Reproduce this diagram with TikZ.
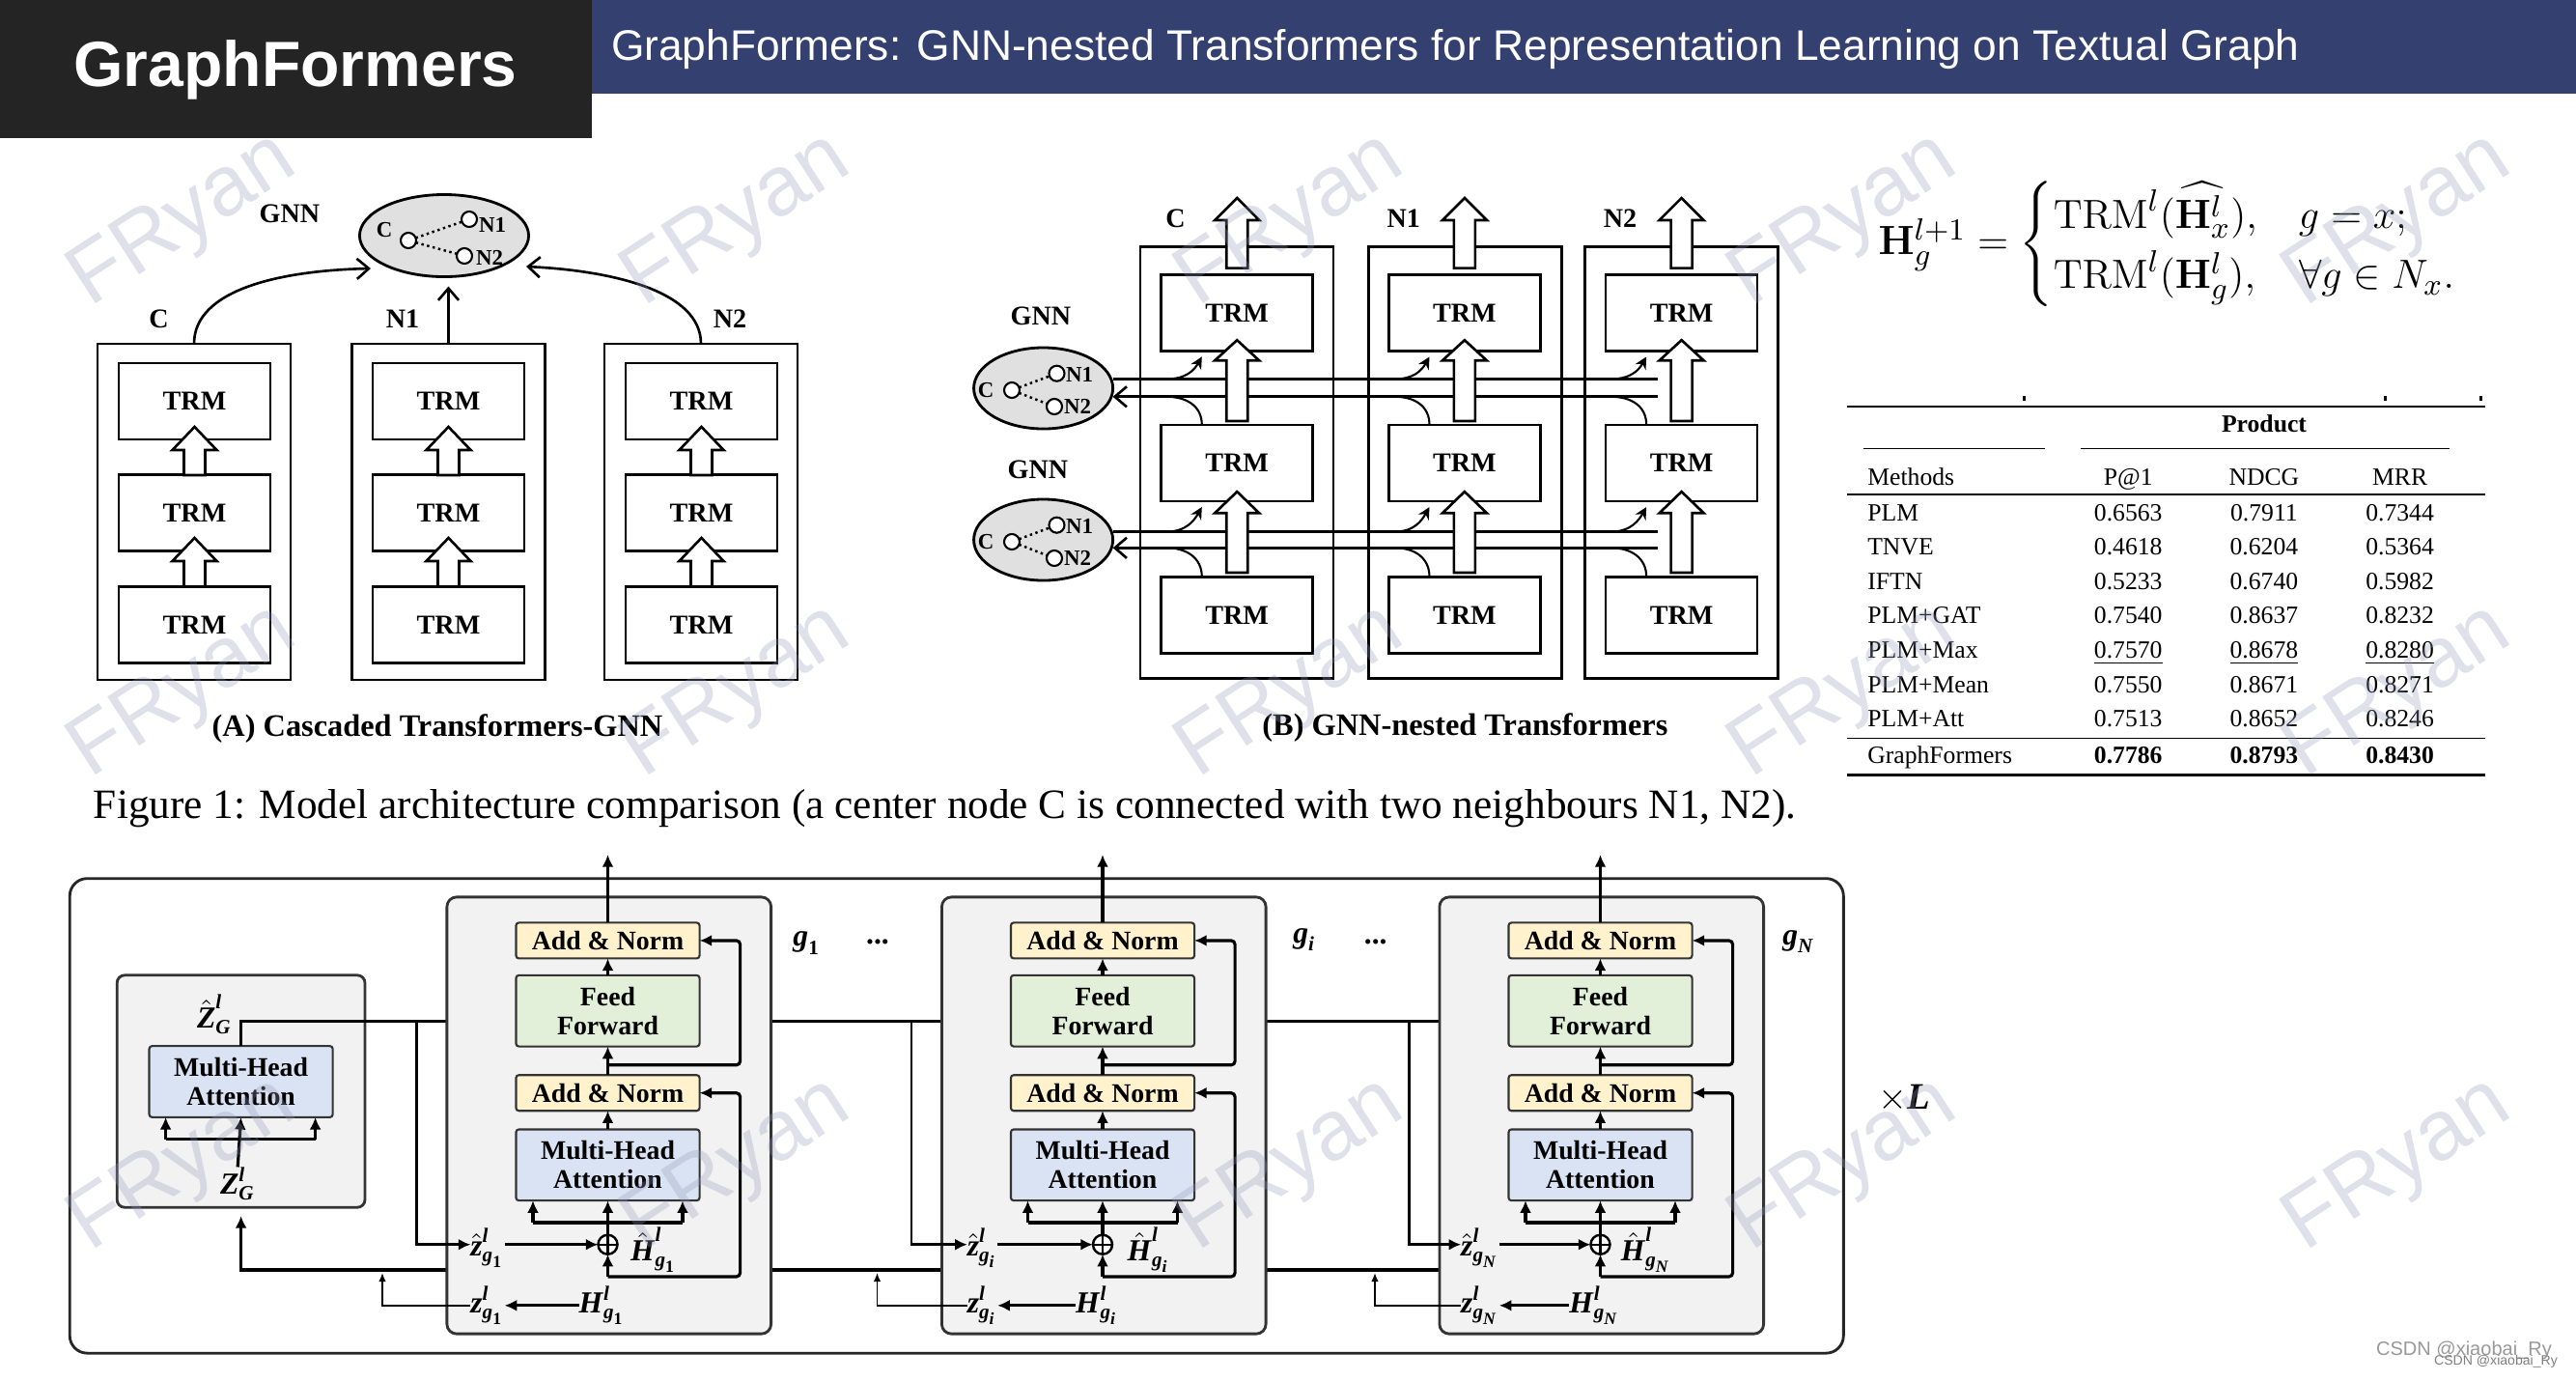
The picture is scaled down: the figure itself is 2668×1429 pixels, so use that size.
\documentclass[tikz,border=0pt]{standalone}
\usepackage{amsmath,amssymb}
\usepackage[no-math]{fontspec}
\setmainfont{Liberation Serif}
\newfontfamily\arial{Liberation Sans}
\usetikzlibrary{arrows.meta,calc,shapes.geometric}
\definecolor{titlebg}{RGB}{36,36,36}
\definecolor{barbg}{RGB}{52,64,112}
\definecolor{ellgray}{RGB}{224,224,224}
\definecolor{blkgray}{RGB}{242,242,242}
\definecolor{anfill}{RGB}{255,242,204}
\definecolor{fffill}{RGB}{226,240,217}
\definecolor{mhafill}{RGB}{218,227,243}
\definecolor{wmark}{RGB}{150,155,185}
\newcommand\bi[1]{\textbf{\textit{#1}}}
\newcommand\fs[1]{\fontsize{#1}{#1}\selectfont}
\newcommand\harrow[4]{\draw[line width=0.75pt,fill=white] ({#1-11},#4) -- ({#1-11},#3) -- ({#1-23},#3) -- (#1,#2) -- ({#1+23},#3) -- ({#1+11},#3) -- ({#1+11},#4) -- cycle;}
\begin{document}
\begin{tikzpicture}[x=0.01cm,y=-0.01cm,
  every node/.style={inner sep=0pt,outer sep=0pt},
  trm/.style={draw,line width=0.75pt,minimum width=1.57cm,minimum height=0.79cm,font=\fs{8}\bfseries},
  colbox/.style={draw,line width=0.75pt,minimum width=2cm},
  lbl/.style={font=\fs{8}\bfseries},
  gnn/.style={ellipse,draw,line width=0.8pt,fill=ellgray},
  gdot/.style={circle,draw,line width=0.6pt,fill=white,minimum size=0.16cm},
  glab/.style={font=\fs{6.5}\bfseries},
  oarrow/.style={line width=0.75pt,-{Straight Barb[length=3.5pt,width=6pt]}},
  carrow/.style={line width=0.6pt,-{Stealth[length=3.5pt,width=3.5pt]}},
  tabtxt/.style={font=\fs{7.3},anchor=base},
  blk/.style={draw=black!80,line width=0.8pt,fill=blkgray,rounded corners=0.1cm},
  cbox/.style={draw=black!80,line width=0.6pt,rounded corners=0.03cm,minimum width=1.9cm,font=\fontsize{7.9}{8.6}\selectfont\bfseries,align=center},
  anbox/.style={cbox,fill=anfill,minimum height=0.37cm},
  ffbox/.style={cbox,fill=fffill,minimum height=0.737cm},
  mhabox/.style={cbox,fill=mhafill,minimum height=0.737cm},
  mlab/.style={font=\fs{9}},
  tarrow/.style={line width=0.9pt,-{Latex[length=3.6pt,width=3.4pt]}},
  fline/.style={line width=0.9pt},
  sarrow/.style={line width=0.5pt,-{Latex[length=2.6pt,width=2.2pt]}}
]
\useasboundingbox (0,0) rectangle (2668,1429);
\fill[white] (0,0) rectangle (2668,1429);

% ---------- title ----------
\node[fill=titlebg,minimum width=6.13cm,minimum height=1.43cm,anchor=north west] (ttl) at (0,0) {};
\node[font=\arial\bfseries\fs{18.8},text=white] (ttltxt) at (306,72) {GraphFormers};
\node[fill=barbg,minimum width=20.55cm,minimum height=0.97cm,anchor=north west] (bar) at (613,0) {};
\node[font=\arial\fs{12.6},text=white,anchor=west] (bartxt) at (633,51) {GraphFormers: GNN-nested Transformers for Representation Learning on Textual Graph};

% ---------- Fig A ----------
\node[colbox,minimum height=3.48cm] (A-C) at (201,530) {};
\node[colbox,minimum height=3.48cm] (A-N1) at (464.5,530) {};
\node[colbox,minimum height=3.48cm] (A-N2) at (726,530) {};
\foreach \c/\x in {C/201.5,N1/464.5,N2/726.5}{
  \node[trm] (A-\c-1) at (\x,415.5) {TRM};
  \node[trm] (A-\c-2) at (\x,531) {TRM};
  \node[trm] (A-\c-3) at (\x,647) {TRM};
  \harrow{\x}{442}{466}{492}
  \harrow{\x}{557}{581}{607.5}
}
\node[lbl] (A-lC) at (164.6,330) {C};
\node[lbl] (A-lN1) at (417,330) {N1};
\node[lbl] (A-lN2) at (756,330) {N2};
\node[lbl] (A-lG) at (300,221) {GNN};
\node[gnn,minimum width=1.75cm,minimum height=0.85cm] (gA) at (460,244) {};
\node[gdot] (gA-c) at (423,249) {};
\node[gdot] (gA-n1) at (486,227) {};
\node[gdot] (gA-n2) at (481,265) {};
\draw[densely dotted,line width=0.7pt] (gA-c) -- (gA-n1) (gA-c) -- (gA-n2);
\node[glab] (gA-lc) at (398,238) {C};
\node[glab,anchor=west] (gA-ln1) at (496,233) {N1};
\node[glab,anchor=west] (gA-ln2) at (493,267) {N2};
\coordinate (gA-inC) at (384,278);
\coordinate (gA-inN2) at (545,276);
\draw[oarrow] (A-C.north) .. controls (201,300) and (290,280) .. (gA-inC);
\draw[oarrow,shorten >=0.1cm] (A-N1.north) -- (A-N1.north |- gA.south);
\draw[oarrow] (A-N2.north) .. controls (726,300) and (630,280) .. (gA-inN2);
\node[font=\fs{9.2}\bfseries] (capA) at (453,755) {(A) Cascaded Transformers-GNN};

% ---------- Fig B ----------
\node[colbox,minimum height=4.47cm] (B-C) at (1281,479) {};
\node[colbox,minimum height=4.47cm] (B-N1) at (1517.5,479) {};
\node[colbox,minimum height=4.47cm] (B-N2) at (1741.5,479) {};
\foreach \c/\x in {C/1281.2,N1/1516.9,N2/1741.6}{
  \node[trm] (B-\c-1) at (\x,323.9) {TRM};
  \node[trm] (B-\c-2) at (\x,479.5) {TRM};
  \node[trm] (B-\c-3) at (\x,636.8) {TRM};
}
\node[lbl] (B-lC) at (1217.5,226) {C};
\node[lbl] (B-lN1) at (1453.8,226) {N1};
\node[lbl] (B-lN2) at (1678,226) {N2};
\node[lbl] (B-lG1) at (1078,327) {GNN};
\node[lbl] (B-lG2) at (1075,486) {GNN};
\foreach \k/\y in {1/402,2/559}{
  \node[gnn,minimum width=1.44cm,minimum height=0.84cm] (gB\k) at (1080.6,\y) {};
  \node[gdot] (gB\k-c) at (1048,\y+2) {};
  \node[gdot] (gB\k-n1) at (1094.5,\y-15.3) {};
  \node[gdot] (gB\k-n2) at (1092,\y+19) {};
  \draw[densely dotted,line width=0.7pt] (gB\k-c) -- (gB\k-n1) (gB\k-c) -- (gB\k-n2);
  \node[glab] (gB\k-lc) at (1021,\y+2) {C};
  \node[glab,anchor=west] (gB\k-ln1) at (1104,\y-14) {N1};
  \node[glab,anchor=west] (gB\k-ln2) at (1102,\y+19) {N2};
}
\coordinate (B-u1e) at (1717.4,392.4);
\coordinate (B-l1s) at (1717.4,410.8);
\coordinate (B-u2e) at (1717.4,550.5);
\coordinate (B-l2s) at (1717.4,567.3);
\draw[line width=0.75pt] (gB1.east |- B-u1e) -- (B-u1e);
\draw[oarrow] (B-l1s) -- (gB1.east |- B-l1s);
\draw[line width=0.75pt] (gB2.east |- B-u2e) -- (B-u2e);
\draw[oarrow] (B-l2s) -- (gB2.east |- B-l2s);
\foreach \c/\dx in {C/0,N1/236.3,N2/460.4}{
  \draw[carrow] (1208.4+\dx,392.4) .. controls +(20,0) and +(-8,14) .. ($(B-\c-1.south)+(-36.4,6)$);
  \draw[line width=0.6pt] ($(B-\c-2.north)+(-36.4,0)$) .. controls +(0,-20) and +(20,0) .. (1208.4+\dx,410.8);
  \draw[carrow] (1208.4+\dx,550.5) .. controls +(20,0) and +(-8,14) .. ($(B-\c-2.south)+(-36.4,6)$);
  \draw[line width=0.6pt] ($(B-\c-3.north)+(-36.4,0)$) .. controls +(0,-20) and +(20,0) .. (1208.4+\dx,567.3);
}
\foreach \x in {1281.2,1516.9,1741.6}{
  \harrow{\x}{205}{228}{277.6}
  \harrow{\x}{352.2}{373.3}{436}
  \harrow{\x}{509.1}{531.3}{593}
}
\node[font=\fs{9.2}\bfseries] (capB) at (1517.4,754) {(B) GNN-nested Transformers};

% ---------- formula ----------
\node[font=\fontsize{12.3}{14.8}\selectfont] (formula) at (2246,253) {$\mathbf{H}_g^{l+1} = \begin{cases}\mathrm{TRM}^l(\widehat{\mathbf{H}^l_x}), & g = x;\\ \mathrm{TRM}^l(\mathbf{H}^l_g), & \forall g \in N_x.\end{cases}$};

% ---------- table ----------
\draw[line width=0.7pt] (1912.7,421) -- (2573.6,421);
\fill (2094.5,410) rectangle (2097.5,415);
\fill (2469,410) rectangle (2472,415);
\fill (2568,410) rectangle (2571,415);
\node[tabtxt,font=\fs{7.3}\bfseries] (t-prod) at (2345,447.8) {Product};
\draw[line width=0.45pt] (1930.3,464.4) -- (2117.7,464.4);
\draw[line width=0.45pt] (2155.4,464.4) -- (2536.9,464.4);
\node[tabtxt,anchor=base west] (t-h0) at (1934.3,502) {Methods};
\node[tabtxt] (t-h1) at (2204.2,502) {P@1};
\node[tabtxt] (t-h2) at (2344.9,502) {NDCG};
\node[tabtxt] (t-h3) at (2485.6,502) {MRR};
\draw[line width=0.45pt] (1912.7,512.1) -- (2573.6,512.1);
\foreach \m/\a/\b/\c [count=\r from 0] in {PLM/0.6563/0.7911/0.7344,TNVE/0.4618/0.6204/0.5364,IFTN/0.5233/0.6740/0.5982,PLM+GAT/0.7540/0.8637/0.8232,PLM+Max/\underline{0.7570}/\underline{0.8678}/\underline{0.8280},PLM+Mean/0.7550/0.8671/0.8271,PLM+Att/0.7513/0.8652/0.8246}{
  \pgfmathsetmacro\yy{530.5+35.6*\r+8.5}
  \node[tabtxt,anchor=base west] (t-m\r) at (1934.3,\yy) {\m};
  \node[tabtxt] (t-a\r) at (2204.2,\yy) {\a};
  \node[tabtxt] (t-b\r) at (2344.9,\yy) {\b};
  \node[tabtxt] (t-c\r) at (2485.6,\yy) {\c};
}
\draw[line width=0.45pt] (1912.7,764.5) -- (2573.6,764.5);
\node[tabtxt,anchor=base west] (t-gm) at (1934.3,790.4) {GraphFormers};
\node[tabtxt,font=\fs{7.3}\bfseries] (t-ga) at (2204.2,790.4) {0.7786};
\node[tabtxt,font=\fs{7.3}\bfseries] (t-gb) at (2344.9,790.4) {0.8793};
\node[tabtxt,font=\fs{7.3}\bfseries] (t-gc) at (2485.6,790.4) {0.8430};
\draw[line width=0.7pt] (1912.7,802.3) -- (2573.6,802.3);

% ---------- caption ----------
\node[anchor=west,font=\fs{12.3}] (fig1cap) at (97,837) {Figure 1: Model architecture comparison (a center node C is connected with two neighbours N1, N2).};

% ---------- bottom figure ----------
\node[draw=black!85,line width=0.8pt,rounded corners=0.18cm,minimum width=18.36cm,minimum height=4.912cm] (outer) at (990.8,1155.4) {};
\node[blk,rounded corners=0.08cm,minimum width=2.567cm,minimum height=2.403cm] (lbox) at (249.6,1130) {};
\node[mhabox] (lmha) at (249.6,1120) {Multi-Head\\Attention};
\node[mlab] (zGh) at (222.2,1050) {$\hat{\bi{Z}}^{\bi{l}}_{\bi{G}}$};
\node[mlab] (zG) at (246.2,1225.5) {$\bi{Z}^{\bi{l}}_{\bi{G}}$};
\draw[fline] ($(lmha.south)+(-78,23)$) -- ($(lmha.south)+(77,23)$);
\draw[tarrow] ($(lmha.south)+(-78,23)$) -- ($(lmha.south)+(-78,0)$);
\draw[tarrow] ($(lmha.south)+(77,23)$) -- ($(lmha.south)+(77,0)$);
\draw[tarrow] (zG.north) -- (lmha.south);
\coordinate (uend) at (1491,1057.2);
\coordinate (lend) at (1491,1315);
\coordinate (zin) at (249.6,1259);
\draw[fline] (lmha.north) |- (uend);
\draw[tarrow] (lend) -| (zin);

\foreach \i/\L/\s in {1/463/\textbf{1},2/975.5/\bi{i},3/1491/\bi{N}}{
  \pgfmathsetmacro\cx{\L+166.5}
  \pgfmathsetmacro\bx{\L+167.75}
  \node[blk,minimum width=3.355cm,minimum height=4.52cm] (blk\i) at (\bx,1155) {};
  \node[anbox] (an1\i) at (\cx,973.9) {Add \& Norm};
  \node[ffbox] (ff\i) at (\cx,1046.7) {Feed\\Forward};
  \node[anbox] (an2\i) at (\cx,1131.7) {Add \& Norm};
  \node[mhabox] (mha\i) at (\cx,1206.3) {Multi-Head\\Attention};
  \coordinate (out\i) at (\cx,885);
  \draw[tarrow] (mha\i.north) -- (an2\i.south);
  \draw[tarrow] (an2\i.north) -- (ff\i.south);
  \draw[tarrow] (ff\i.north) -- (an1\i.south);
  \draw[tarrow] (an1\i.north) -- (out\i);
  \node[circle,draw,line width=0.7pt,fill=white,minimum size=0.2cm] (op\i) at (\cx,1288.7) {};
  \draw[line width=0.6pt] (op\i.north) -- (op\i.south) (op\i.west) -- (op\i.east);
  \draw[fline] ($(mha\i.south)+(-77.5,22.8)$) -- ($(mha\i.south)+(77.5,22.8)$);
  \draw[tarrow] ($(mha\i.south)+(-77.5,22.8)$) -- ($(mha\i.south)+(-77.5,0)$);
  \draw[tarrow] ($(mha\i.south)+(77.5,22.8)$) -- ($(mha\i.south)+(77.5,0)$);
  \draw[tarrow] (op\i.north) -- (mha\i.south);
  \node[mlab] (zh\i) at (\L+42,1292) {$\hat{\bi{z}}^{\bi{l}}_{\bi{g}_{\s}}$};
  \node[mlab] (hh\i) at (\L+214.3,1294) {$\hat{\bi{H}}^{\bi{l}}_{\bi{g}_{\s}}$};
  \draw[tarrow] (zh\i.east |- op\i) -- (op\i.west);
  \coordinate (r1\i) at (\cx,1322);
  \coordinate (r2\i) at (\cx,1102.8);
  \draw[tarrow] (r1\i) -- (op\i.south);
  \draw[tarrow,rounded corners=0.04cm] (r1\i) -- (\L+303.6,1322) |- (an2\i.east);
  \draw[tarrow,rounded corners=0.04cm] (r2\i) -- (\L+303.6,1102.8) |- (an1\i.east);
  \node[mlab] (zz\i) at (\L+42,1351.8) {$\bi{z}^{\bi{l}}_{\bi{g}_{\s}}$};
  \node[mlab] (hl\i) at (\L+160.8,1351.8) {$\bi{H}^{\bi{l}}_{\bi{g}_{\s}}$};
  \draw[tarrow] (hl\i.west) -- (zz\i.east |- hl\i.west);
  \coordinate (br\i) at (\L-31.6,1057.2);
  \draw[line width=0.7pt,-{Latex[length=3.6pt,width=3.4pt]}] (br\i) |- (zh\i.west |- op\i);
  \coordinate (zc\i) at (\L-67,1318);
  \draw[sarrow] (zz\i.west) -| (zc\i);
}
\node[mlab] (lg1) at (835.5,976.5) {$\bi{g}_{\textbf{1}}$};
\node[mlab,font=\fs{9}\bfseries] (dots1) at (909,975) {...};
\node[mlab] (lgi) at (1351,973) {$\bi{g}_{\bi{i}}$};
\node[mlab,font=\fs{9}\bfseries] (dots2) at (1424.7,975) {...};
\node[mlab] (lgN) at (1863,975) {$\bi{g}_{\bi{N}}$};
\node[font=\fs{11}] (xL) at (1972,1137) {$\times\bi{L}$};

% ---------- watermarks ----------
\node[font=\arial\fs{5.7},text=black!40] (csdn1) at (2552,1398) {CSDN @xiaobai\_Ry};
\node[font=\arial\fs{4},text=black!50] (csdn2) at (2585,1410) {CSDN @xiaobai\_Ry};
\foreach \wx [count=\a] in {190.6,764,1337.4,1910.8,2484.2}{
  \foreach \wy [count=\b] in {230,718,1208}{
    \node[rotate=33,opacity=0.3,text=wmark,font=\arial\fs{25}] (wm\a\b) at (\wx,\wy) {FRyan};
  }
}
\end{tikzpicture}
\end{document}
